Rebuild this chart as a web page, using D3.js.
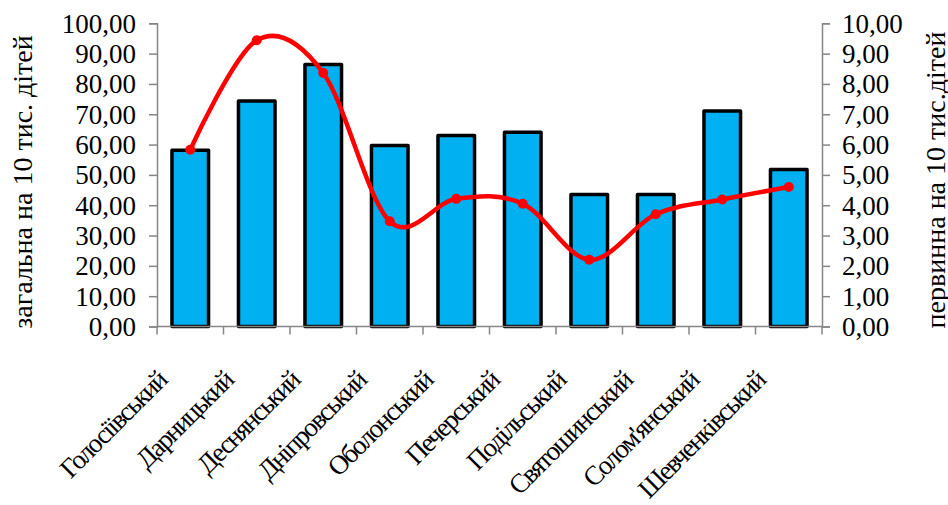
<!DOCTYPE html>
<html>
<head>
<meta charset="utf-8">
<script src="https://cdn.jsdelivr.net/npm/d3@7"></script>
<style>
  html, body { margin: 0; padding: 0; background: #fff; }
  svg { display: block; }
</style>
</head>
<body>
<svg id="chart" width="948" height="505"></svg>
<script>
// Districts of Kyiv
const districts = ["Голосіївський", "Дарницький", "Деснянський", "Дніпровський", "Оболонський",
  "Печерський", "Подільський", "Святошинський", "Солом'янський", "Шевченківський"];
// Total rate per 10 thousand children (left axis, bars)
const totalRate = [58.1, 74.4, 86.4, 59.7, 63.0, 64.1, 43.5, 43.5, 71.1, 51.8];
// Primary rate per 10 thousand children (right axis, line)
const primaryRate = [5.83, 9.44, 8.36, 3.47, 4.21, 4.05, 2.20, 3.70, 4.19, 4.60];
// Axis ticks
const leftTicks = [0, 10, 20, 30, 40, 50, 60, 70, 80, 90, 100];
const rightTicks = [0, 1, 2, 3, 4, 5, 6, 7, 8, 9, 10];
const leftTitle = "загальна на 10 тис. дітей";
const rightTitle = "первинна на 10 тис.дітей";

const FONT = '"Liberation Serif", "Times New Roman", serif';
const svg = d3.select("#chart");
const x0 = 157, x1 = 822, yTop = 23.3, yBot = 326.5;
const fmt = v => v.toFixed(2).replace(".", ",");

const x = d3.scaleBand().domain(districts).range([x0, x1]).paddingInner(0.45).paddingOuter(0.225);
const yL = d3.scaleLinear().domain([0, 100]).range([yBot, yTop]);
const yR = d3.scaleLinear().domain([0, 10]).range([yBot, yTop]);
const axisColor = "#868686";

// Bars
svg.append("g").selectAll("rect").data(totalRate).join("rect")
  .attr("x", (d, i) => x(districts[i]))
  .attr("y", d => yL(d))
  .attr("width", x.bandwidth())
  .attr("height", d => yBot - yL(d))
  .attr("fill", "#00B0F0")
  .attr("stroke", "#000")
  .attr("stroke-width", 3.5)
  .attr("stroke-linejoin", "round");

// Left axis
const gL = svg.append("g").attr("transform", `translate(${x0},0)`)
  .call(d3.axisLeft(yL).tickValues(leftTicks).tickFormat(fmt).tickSize(8).tickPadding(13));
// Right axis
const gR = svg.append("g").attr("transform", `translate(${x1},0)`)
  .call(d3.axisRight(yR).tickValues(rightTicks).tickFormat(fmt).tickSize(8).tickPadding(12));
// Bottom axis with ticks at category boundaries
const boundaries = districts.map((d, i) => x0 + i * x.step()).concat([x1]);
const gB = svg.append("g").attr("transform", `translate(0,${yBot})`);
gB.append("line").attr("x1", x0).attr("x2", x1).attr("stroke", axisColor).attr("stroke-width", 1.5);
gB.selectAll("line.t").data(boundaries).join("line").attr("class", "t")
  .attr("x1", d => d).attr("x2", d => d).attr("y1", 0).attr("y2", 8)
  .attr("stroke", axisColor).attr("stroke-width", 1.5);

[gL, gR].forEach(g => {
  g.select(".domain").attr("stroke", axisColor).attr("stroke-width", 1.5);
  g.selectAll(".tick line").attr("stroke", axisColor).attr("stroke-width", 1.5);
  g.selectAll(".tick text").attr("font-size", 27).attr("dy", "0.33em")
    .style("font-family", FONT).attr("fill", "#000");
});

// Category labels rotated -45°
svg.append("g").selectAll("text").data(districts).join("text")
  .attr("transform", d => `translate(${x(d) + x.bandwidth() / 2 - 22},382) rotate(-45)`)
  .attr("text-anchor", "end")
  .attr("font-size", 27)
  .attr("letter-spacing", -1.7)
  .style("font-family", FONT)
  .text(d => d);

// Smoothed line with markers
const line = d3.line()
  .x((d, i) => x(districts[i]) + x.bandwidth() / 2)
  .y(d => yR(d))
  .curve(d3.curveCatmullRom.alpha(0));
svg.append("path").datum(primaryRate)
  .attr("d", line).attr("fill", "none").attr("stroke", "#FF0000")
  .attr("stroke-width", 4.5).attr("stroke-linecap", "round");
svg.append("g").selectAll("circle").data(primaryRate).join("circle")
  .attr("cx", (d, i) => x(districts[i]) + x.bandwidth() / 2)
  .attr("cy", d => yR(d))
  .attr("r", 5).attr("fill", "#FF0000");

// Axis titles
svg.append("text").attr("transform", "translate(32,182) rotate(-90)")
  .attr("text-anchor", "middle").attr("font-size", 28)
  .style("font-family", FONT).text(leftTitle);
svg.append("text").attr("transform", "translate(945,180) rotate(-90)")
  .attr("text-anchor", "middle").attr("font-size", 28)
  .style("font-family", FONT).text(rightTitle);
</script>
</body>
</html>
